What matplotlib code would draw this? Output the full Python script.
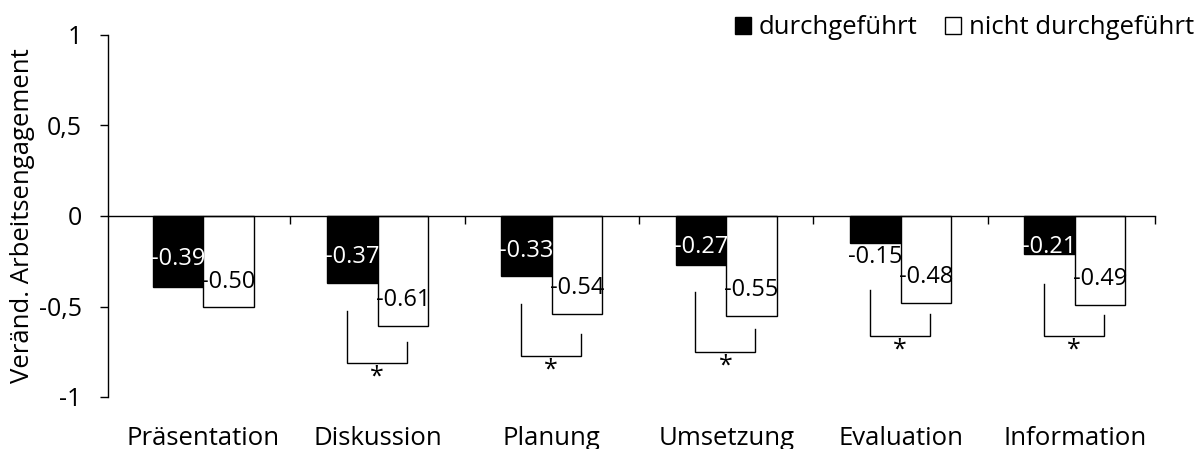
import matplotlib
matplotlib.use("Agg")
import matplotlib.pyplot as plt
from matplotlib.patches import Patch
from matplotlib.transforms import offset_copy
import numpy as np

plt.rcParams['font.family'] = ['Open Sans', 'DejaVu Sans']

categories = ["Präsentation", "Diskussion", "Planung", "Umsetzung", "Evaluation", "Information"]
durchgefuehrt = [-0.39, -0.37, -0.33, -0.27, -0.15, -0.21]
nicht_durchgefuehrt = [-0.50, -0.61, -0.54, -0.55, -0.48, -0.49]
series_names = ["durchgeführt", "nicht durchgeführt"]
ytick_values = [-1, -0.5, 0, 0.5, 1]
ytick_labels = ["-1", "-0,5", "0", "0,5", "1"]
ylabel = "Veränd. Arbeitsengagement"
# significance brackets (categories 1..5)
sig_cats = [1, 2, 3, 4, 5]
sig_left_top = [-0.525, -0.486, -0.42, -0.409, -0.376]
sig_right_top = [-0.696, -0.652, -0.624, -0.541, -0.547]
sig_bottom = [-0.812, -0.773, -0.751, -0.663, -0.663]
# data label anchor positions (value axis)
label_y_dark = [-0.238, -0.227, -0.193, -0.171, -0.227, -0.171]
label_y_light = [-0.365, -0.464, -0.398, -0.409, -0.337, -0.348]
label_col_dark = ["white", "white", "white", "white", "black", "white"]

FS = 18.5
W, H = 1198, 449
fig = plt.figure(figsize=(W / 100, H / 100), dpi=100)
ax = fig.add_axes([108 / W, 1 - 397 / H, 1047 / W, 362 / H])

x = np.arange(len(categories))
bw = 0.29
ax.bar(x - bw / 2, durchgefuehrt, width=bw, color="black", edgecolor="black", linewidth=1.0, zorder=2)
ax.bar(x + bw / 2, nicht_durchgefuehrt, width=bw, color="white", edgecolor="black", linewidth=1.0, zorder=2)

xmin, xmax = -0.547, 5.46
ax.set_xlim(xmin, xmax)
ax.set_ylim(-1, 1)

# y axis
for s in ["top", "right", "bottom"]:
    ax.spines[s].set_visible(False)
ax.spines["left"].set_linewidth(1.0)
ax.set_yticks(ytick_values)
ax.set_yticklabels(ytick_labels)
ax.tick_params(axis="y", direction="out", length=6, width=1.0, pad=13, labelsize=18)

# category labels on bottom
ax.set_xticks(x)
ax.set_xticklabels(categories)
ax.tick_params(axis="x", length=0, pad=21, labelsize=FS)

# zero axis with category boundary ticks
tw = ax.twiny()
tw.set_xlim(xmin, xmax)
for s in ["top", "right", "left"]:
    tw.spines[s].set_visible(False)
tw.spines["bottom"].set_position(("data", 0))
tw.spines["bottom"].set_linewidth(1.0)
tw.xaxis.set_ticks_position("bottom")
tw.set_xticks(list(np.arange(0.5, len(categories) - 0.5, 1.0)) + [xmax])
tw.set_xticklabels([])
tw.tick_params(axis="x", direction="out", length=6, width=1.0, labelbottom=False, labeltop=False)
tw.set_zorder(ax.get_zorder() + 1)
tw.patch.set_visible(False)

# data labels
for i in range(len(categories)):
    ax.text(x[i] - bw / 2, label_y_dark[i], f"{durchgefuehrt[i]:.2f}", ha="center", va="center",
            fontsize=17, color=label_col_dark[i], zorder=4)
    ax.text(x[i] + bw / 2, label_y_light[i], f"{nicht_durchgefuehrt[i]:.2f}", ha="center", va="center",
            fontsize=17, color="black", zorder=4)

# significance brackets
for c, lt, rt, b in zip(sig_cats, sig_left_top, sig_right_top, sig_bottom):
    xl, xr = c - 0.177, c + 0.167
    ax.plot([xl, xl, xr, xr], [lt, b, b, rt], color="black", lw=1.0, zorder=3, solid_joinstyle="miter")
    ax.text((xl + xr) / 2, b, "*", ha="center", va="top", fontsize=18,
            transform=offset_copy(ax.transData, fig=fig, y=-1, units="points"))

fig.text(23 / W, 0.5 * ((1 - 397 / H) + (1 - 35 / H)), ylabel, rotation=90, ha="center", va="center", fontsize=FS)

handles = [Patch(facecolor="black", edgecolor="black", linewidth=1.0),
           Patch(facecolor="white", edgecolor="black", linewidth=1.0)]
fig.legend(handles, series_names, loc="center right", bbox_to_anchor=(1194 / W, 1 - 28 / H),
           ncol=2, frameon=False, fontsize=FS, handlelength=0.62, handleheight=0.62,
           handletextpad=0.3, columnspacing=1.1, borderpad=0, borderaxespad=0)

fig.savefig("out.png", dpi=100)
